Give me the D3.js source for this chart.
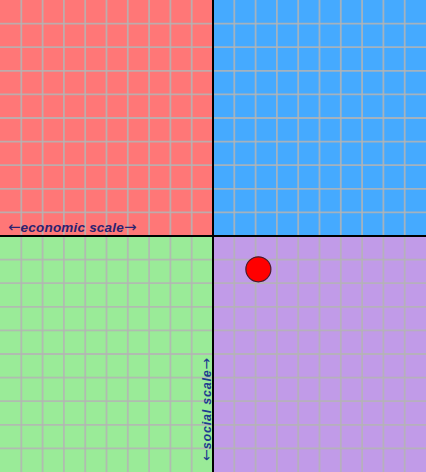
<!DOCTYPE html>
<html>
<head>
<meta charset="utf-8">
<script src="https://cdn.jsdelivr.net/npm/d3@7"></script>
<style>
html,body{margin:0;padding:0;background:#fff;}
svg{display:block;}
</style>
</head>
<body>
<svg id="chart" width="426" height="472"></svg>
<script>
// Data
const quadrants = ["authLeft", "authRight", "libLeft", "libRight"];
const quadrantColors = ["#ff7777", "#45aaff", "#9aeb98", "#c19be8"];
const gridTicks = d3.range(-10, 11, 1);
const pointEconomic = [2.13];
const pointSocial = [-1.41];
const axisLabels = ["economic scale", "social scale"];
const arrows = ["\u2190", "\u2192"];

const W = 426, H = 472;
const svg = d3.select("#chart");
const x = d3.scaleLinear().domain([-10, 10]).range([0, W]);
const y = d3.scaleLinear().domain([10, -10]).range([0, H]);

const quadExtents = {
  authLeft: [[-10, 0], [10, 0]],
  authRight: [[0, 10], [10, 0]],
  libLeft: [[-10, 0], [0, -10]],
  libRight: [[0, 10], [0, -10]]
};

svg.selectAll("rect.q").data(quadrants).join("rect")
  .attr("class", "q")
  .attr("x", d => x(quadExtents[d][0][0]))
  .attr("width", d => x(quadExtents[d][0][1]) - x(quadExtents[d][0][0]))
  .attr("y", d => y(quadExtents[d][1][0]))
  .attr("height", d => y(quadExtents[d][1][1]) - y(quadExtents[d][1][0]))
  .attr("fill", (d, i) => quadrantColors[i]);

// grid
const g = svg.append("g");
const inner = gridTicks.filter(t => t !== 0 && Math.abs(t) !== 10);
g.selectAll("line.v").data(inner).join("line")
  .attr("x1", d => x(d)).attr("x2", d => x(d))
  .attr("y1", 0).attr("y2", H)
  .attr("stroke", "#b4b4b4").attr("stroke-opacity", 0.85).attr("stroke-width", 1.8);
g.selectAll("line.h").data(inner).join("line")
  .attr("y1", d => y(d)).attr("y2", d => y(d))
  .attr("x1", 0).attr("x2", W)
  .attr("stroke", "#b4b4b4").attr("stroke-opacity", 0.85).attr("stroke-width", 1.8);

// axes
svg.append("line").attr("x1", x(0)).attr("x2", x(0)).attr("y1", 0).attr("y2", H)
  .attr("stroke", "#000").attr("stroke-width", 2);
svg.append("line").attr("y1", y(0)).attr("y2", y(0)).attr("x1", 0).attr("x2", W)
  .attr("stroke", "#000").attr("stroke-width", 2);

function label(sel, txt, size, arrowSize, spacing) {
  sel.append("tspan").attr("font-family", "DejaVu Sans, sans-serif").attr("font-weight", "normal")
    .attr("font-style", "normal").attr("font-size", arrowSize).text(arrows[0]);
  sel.append("tspan").attr("font-family", "Liberation Sans, Arial, sans-serif")
    .attr("font-weight", "bold").attr("font-style", "italic").attr("font-size", size)
    .attr("letter-spacing", spacing).text(txt);
  sel.append("tspan").attr("font-family", "DejaVu Sans, sans-serif").attr("font-weight", "normal")
    .attr("font-style", "normal").attr("font-size", arrowSize).text(arrows[1]);
}

const econ = svg.append("text")
  .attr("x", 8).attr("y", y(0) - 4)
  .attr("fill", "#2b2270");
label(econ, axisLabels[0], 13.5, 15, 0.2);

const soc = svg.append("text")
  .attr("transform", `translate(${x(0) - 2},${H - 11}) rotate(-90)`)
  .attr("fill", "#1d3c8f");
label(soc, axisLabels[1], 12.5, 14, 0.8);

// point
svg.selectAll("circle.pt").data(pointEconomic).join("circle")
  .attr("class", "pt")
  .attr("cx", d => x(d))
  .attr("cy", (d, i) => y(pointSocial[i]))
  .attr("r", 12.5)
  .attr("fill", "#ff0000")
  .attr("stroke", "#4a1a2a").attr("stroke-width", 1.2);
</script>
</body>
</html>
